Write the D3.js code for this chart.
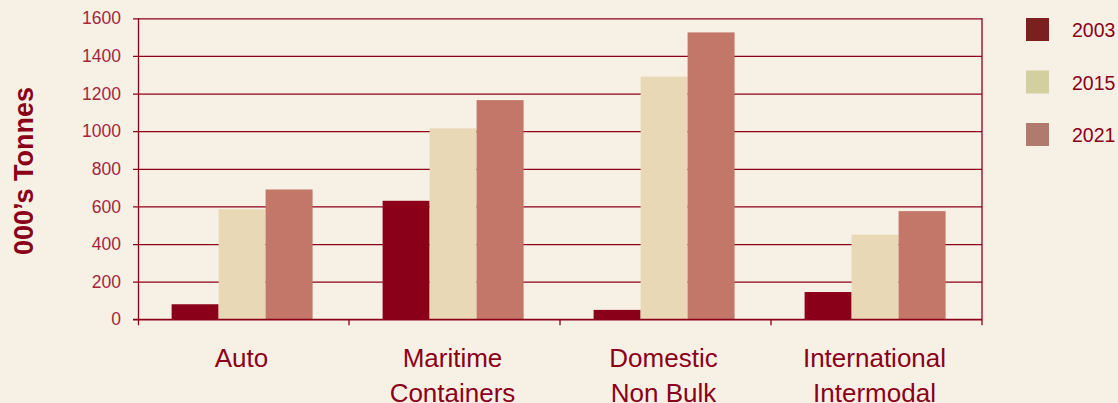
<!DOCTYPE html>
<html><head><meta charset="utf-8">
<script src="https://cdn.jsdelivr.net/npm/d3@7/dist/d3.min.js"></script>
<style>
html,body{margin:0;padding:0;background:#f7f0e5;}
svg{display:block;}
</style></head>
<body>
<svg id="chart" width="1118" height="403"></svg>
<script>
const categories = ["Auto", "Maritime\nContainers", "Domestic\nNon Bulk", "International\nIntermodal"];
const seriesNames = ["2003", "2015", "2021"];
const values2003 = [80, 630, 50, 145];
const values2015 = [585, 1015, 1290, 450];
const values2021 = [690, 1165, 1525, 575];
const yTicks = [0, 200, 400, 600, 800, 1000, 1200, 1400, 1600];
const barColors = ["#8b0018", "#e8d8b5", "#c27769"];
const legendColors = ["#7b1f1f", "#d4cf9f", "#b07a6e"];

const seriesValues = [values2003, values2015, values2021];
const svg = d3.select("#chart");
const W = 1118, H = 403;
const pLeft = 138, pRight = 982, pTop = 18.3, pBottom = 319.3;
const dark = "#8b0018";

svg.append("rect").attr("width", W).attr("height", H).attr("fill", "#f7f0e5");

const x0 = d3.scaleBand().domain(categories).range([pLeft, pRight]).paddingInner(0).paddingOuter(0);
const x1 = d3.scaleBand().domain(seriesNames).range([0, x0.bandwidth()]).paddingInner(0).paddingOuter(0.745).align(0.48);
const y = d3.scaleLinear().domain([0, 1600]).range([pBottom, pTop]);

// gridlines
const yAxis = d3.axisLeft(y).tickValues(yTicks).tickSize(-(pRight - pLeft)).tickSizeOuter(0).tickPadding(12).tickFormat(d3.format("d"));
const gy = svg.append("g").attr("transform", `translate(${pLeft},0)`).call(yAxis);
gy.select(".domain").remove();
gy.selectAll(".tick line").attr("stroke", dark).attr("stroke-width", 1.3).attr("x1", -5);
gy.selectAll(".tick text").attr("fill", "#a2283c").attr("font-family", "Liberation Sans, Arial, sans-serif").attr("font-size", 17.5).attr("x", -17);

// bars
const groups = svg.append("g").selectAll("g").data(categories).join("g")
  .attr("transform", d => `translate(${x0(d)},0)`);
groups.selectAll("rect").data((c, i) => seriesNames.map((s, j) => ({s, v: seriesValues[j][i], j})))
  .join("rect")
  .attr("x", d => x1(d.s))
  .attr("width", x1.bandwidth())
  .attr("y", d => y(d.v))
  .attr("height", d => y(0) - y(d.v))
  .attr("fill", d => barColors[d.j]);

// baseline redraw (on top of bars)
svg.append("line").attr("x1", pLeft - 5).attr("x2", pRight).attr("y1", y(0)).attr("y2", y(0)).attr("stroke", dark).attr("stroke-width", 1.3);

// vertical axis lines
svg.append("line").attr("x1", pLeft + 0.5).attr("x2", pLeft + 0.5).attr("y1", pTop).attr("y2", pBottom + 6).attr("stroke", dark).attr("stroke-width", 1.3);
svg.append("line").attr("x1", pRight).attr("x2", pRight).attr("y1", pTop).attr("y2", pBottom + 6).attr("stroke", dark).attr("stroke-width", 1.3);

// x axis ticks at band boundaries
svg.append("g").selectAll("line").data(categories.slice(1)).join("line")
  .attr("x1", d => x0(d)).attr("x2", d => x0(d)).attr("y1", pBottom).attr("y2", pBottom + 6)
  .attr("stroke", dark).attr("stroke-width", 1.3);

// category labels
categories.forEach(c => {
  const lines = c.split("\n");
  const t = svg.append("text").attr("y", 366.5)
    .attr("text-anchor", "middle").attr("fill", dark)
    .attr("font-family", "Liberation Sans, Arial, sans-serif").attr("font-size", 26);
  lines.forEach((l, i) => t.append("tspan").attr("x", x0(c) + x0.bandwidth() / 2 - 2).attr("dy", i === 0 ? 0 : 35).text(l));
});

// y title
svg.append("text").attr("transform", "translate(33,171) rotate(-90)")
  .attr("text-anchor", "middle").attr("fill", dark)
  .attr("font-family", "Liberation Sans, Arial, sans-serif").attr("font-weight", "bold").attr("font-size", 27)
  .text("000’s Tonnes");

// legend
const lg = svg.append("g").selectAll("g").data(seriesNames).join("g")
  .attr("transform", (d, i) => `translate(1026,${18 + i * 52.5})`);
lg.append("rect").attr("width", 23).attr("height", 23).attr("fill", (d, i) => legendColors[i]);
lg.append("text").attr("x", 46).attr("y", 19).attr("fill", dark)
  .attr("font-family", "Liberation Sans, Arial, sans-serif").attr("font-size", 19.5).text(d => d);
</script>
</body></html>
